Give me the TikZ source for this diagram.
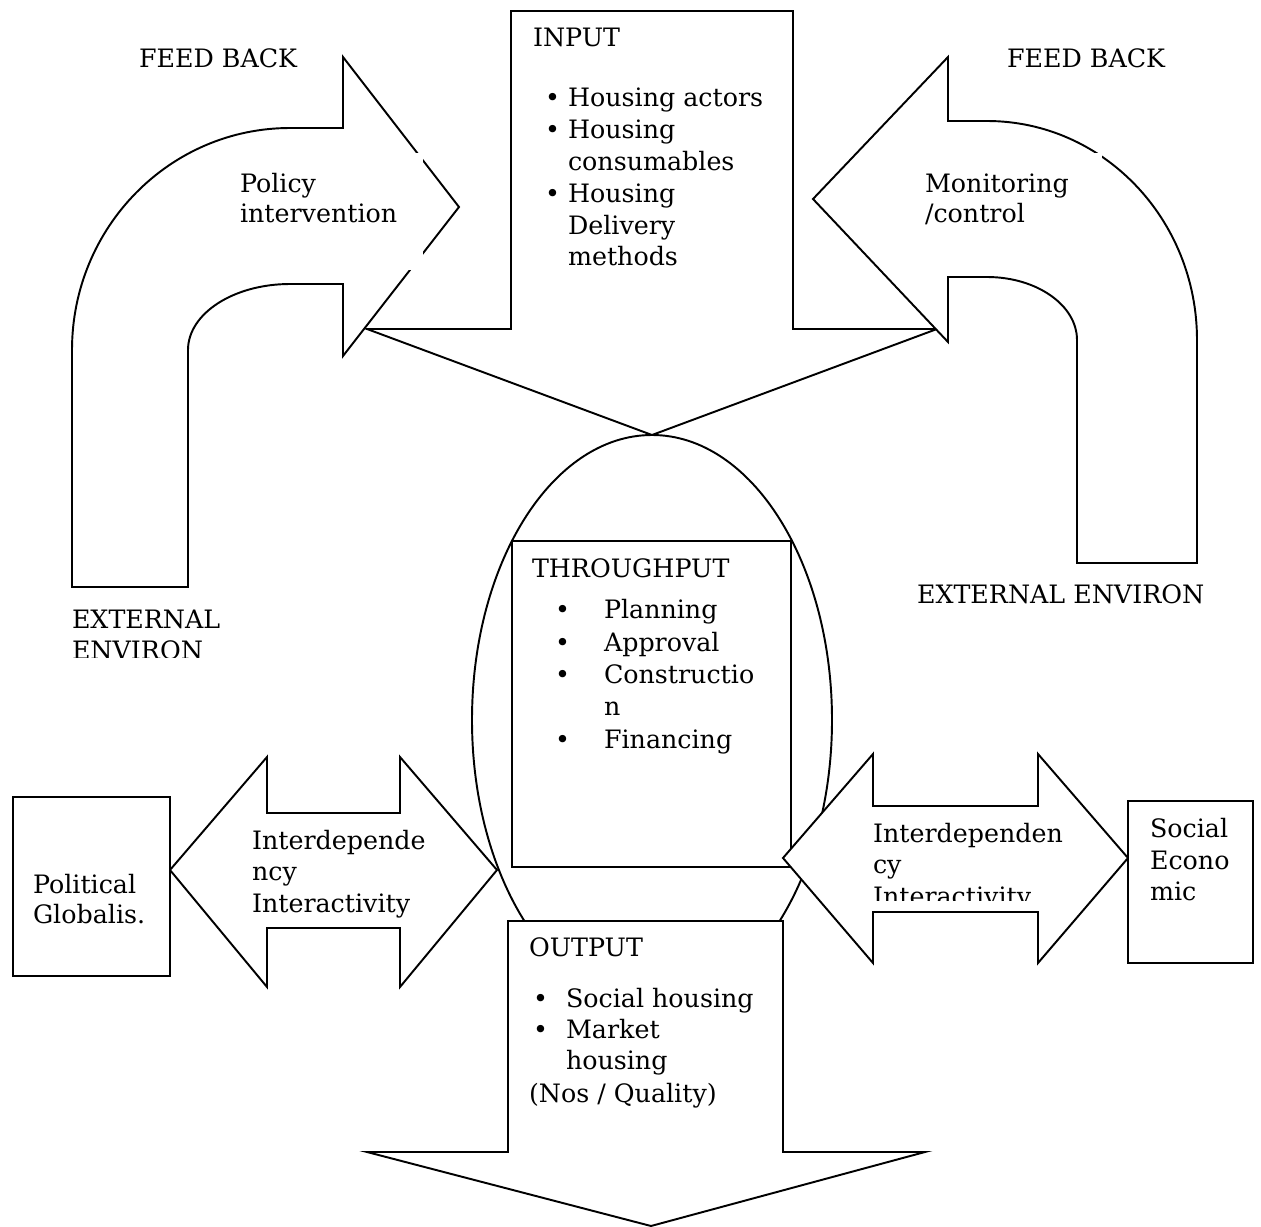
\documentclass[tikz,border=0pt]{standalone}
\usepackage{fontspec}
\setmainfont{DejaVu Serif}
\usetikzlibrary{shapes.geometric}
\newcommand{\dgfont}{\fontsize{19pt}{23pt}\selectfont}
\tikzset{
  shp/.style={draw=black, line width=1.45pt, fill=white, line join=miter},
  lbl/.style={anchor=base west, inner sep=0pt, outer sep=0pt, font=\dgfont},
  bul/.style={anchor=base west, inner sep=0pt, outer sep=0pt, font=\dgfont},
  txtbg/.style={fill=white, draw=none},
}
\begin{document}
\begin{tikzpicture}[x=0.75pt, y=-0.75pt]
\useasboundingbox (0,0) rectangle (1261,1227);

% INPUT arrow (pointing down)
\draw[shp] (511,11) -- (793,11) -- (793,329) -- (937,329) -- (652,435)
  -- (367,329) -- (511,329) -- cycle;

% Left curved FEED BACK arrow
\draw[shp] (72,587) -- (72,350) .. controls (72,227.4) and (169.6,128) .. (290,128)
  -- (343,128) -- (343,57) -- (459,207) -- (343,356) -- (343,284) -- (290,284)
  .. controls (233.7,284) and (188,313.5) .. (188,350) -- (188,587) -- cycle;
% white text frame of the label (leaves small gaps in the head outline)
\fill[txtbg] (232,153) rectangle (423,270);

% Right curved FEED BACK arrow
\draw[shp] (1077,563) -- (1077,340) .. controls (1077,305.2) and (1036.7,277) .. (987,277)
  -- (948,277) -- (948,342) -- (813,199) -- (948,57) -- (948,121) -- (987,121)
  .. controls (1103,121) and (1197,219) .. (1197,340) -- (1197,563) -- cycle;
\fill[txtbg] (915,153) rectangle (1102,265);

% Ellipse
\node[ellipse, shp, minimum width=270pt, minimum height=427.5pt, inner sep=0pt] (ell) at (652,720) {};

% Throughput box
\node[rectangle, shp, minimum width=209.25pt, minimum height=244.5pt, inner sep=0pt] (thr) at (651.5,704) {};

% Left double arrow
\draw[shp] (170,870) -- (267,757) -- (267,813) -- (400,813) -- (400,757) -- (497,870)
  -- (400,987) -- (400,928) -- (267,928) -- (267,987) -- cycle;

% Right double arrow
\draw[shp] (783,858) -- (873,754) -- (873,806) -- (1038,806) -- (1038,754) -- (1128,858)
  -- (1038,963) -- (1038,912) -- (873,912) -- (873,963) -- cycle;

% Output arrow
\draw[shp] (508,921) -- (783,921) -- (783,1152) -- (925,1152) -- (651,1226)
  -- (367,1152) -- (508,1152) -- cycle;

% Side boxes
\draw[shp] (13,797) rectangle (170,976);
\draw[shp] (1128,801) rectangle (1253,963);

% Texts
\node[lbl] (fbl) at (139,68) {FEED BACK};
\node[lbl] (fbr) at (1007,68) {FEED BACK};
\node[lbl] (pol1) at (240,193) {Policy};
\node[lbl] (pol2) at (240,223) {intervention};
\node[lbl] (mon1) at (925,193) {Monitoring};
\node[lbl] (mon2) at (925,223) {/control};

\node[lbl] (inp) at (533,47) {INPUT};
\node[bul] (ib1) at (545,107) {•};
\node[bul] (ib2) at (545,139) {•};
\node[bul] (ib3) at (545,203) {•};
\node[lbl] (it1) at (568,107) {Housing actors};
\node[lbl] (it2) at (568,139) {Housing};
\node[lbl] (it3) at (568,171) {consumables};
\node[lbl] (it4) at (568,203) {Housing};
\node[lbl] (it5) at (568,235) {Delivery};
\node[lbl] (it6) at (568,266) {methods};

\node[lbl] (ext1) at (72,628) {EXTERNAL};
\begin{scope}
  \clip (0,600) rectangle (400,657);
  \node[lbl] (ext2) at (72,659) {ENVIRON};
\end{scope}
\node[lbl] (extr) at (917,603) {EXTERNAL ENVIRON};

\node[lbl] (thrt) at (532,577) {THROUGHPUT};
\node[bul] (tb1) at (555,618) {•};
\node[bul] (tb2) at (555,651) {•};
\node[bul] (tb3) at (555,683) {•};
\node[bul] (tb4) at (555,748) {•};
\node[lbl] (tt1) at (604,618) {Planning};
\node[lbl] (tt2) at (604,651) {Approval};
\node[lbl] (tt3) at (604,683) {Constructio};
\node[lbl] (tt4) at (604,715) {n};
\node[lbl] (tt5) at (604,748) {Financing};

\node[lbl] (li1) at (252,849) {Interdepende};
\node[lbl] (li2) at (252,880) {ncy};
\node[lbl] (li3) at (252,912) {Interactivity};

\node[lbl] (po1) at (33,893) {Political};
\node[lbl] (po2) at (33,923) {Globalis.};

\node[lbl] (ri1) at (873,842) {Interdependen};
\node[lbl] (ri2) at (873,873) {cy};
\begin{scope}
  \clip (860,870) rectangle (1040,900);
  \node[lbl] (ri3) at (873,905) {Interactivity};
\end{scope}

\node[lbl] (so1) at (1150,837) {Social};
\node[lbl] (so2) at (1150,869) {Econo};
\node[lbl] (so3) at (1150,900) {mic};

\node[lbl] (outt) at (529,956) {OUTPUT};
\node[bul] (ob1) at (533,1007) {•};
\node[bul] (ob2) at (533,1038) {•};
\node[lbl] (ot1) at (566,1007) {Social housing};
\node[lbl] (ot2) at (566,1038) {Market};
\node[lbl] (ot3) at (566,1069) {housing};
\node[lbl] (ot4) at (529,1102) {(Nos / Quality)};
\end{tikzpicture}
\end{document}
